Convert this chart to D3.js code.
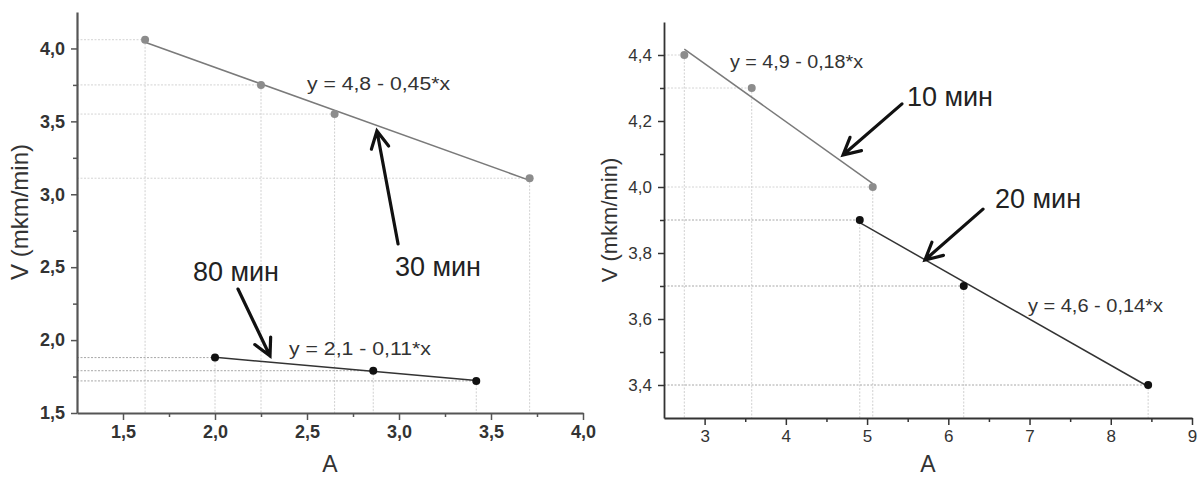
<!DOCTYPE html>
<html>
<head>
<meta charset="utf-8">
<script src="https://cdn.jsdelivr.net/npm/d3@7"></script>
<style>
  body { margin: 0; background: #fff; }
  svg { display: block; font-family: 'Liberation Sans', Arial, sans-serif; }
</style>
</head>
<body>
<svg id="chart"></svg>
<script>
// --- data ---
const a30 = [1.62, 2.25, 2.65, 3.71]
const v30 = [4.06, 3.75, 3.55, 3.11]
const a80 = [2.0, 2.86, 3.42]
const v80 = [1.88, 1.79, 1.72]
const a10 = [2.75, 3.58, 5.07]
const v10 = [4.40, 4.30, 4.00]
const a20 = [4.91, 6.19, 8.46]
const v20 = [3.90, 3.70, 3.40]

const seriesNames = ['30 мин', '80 мин', '10 мин', '20 мин']
const equations = ['y = 4,8 - 0,45*x', 'y = 2,1 - 0,11*x', 'y = 4,9 - 0,18*x', 'y = 4,6 - 0,14*x']

const leftXTicks = [1.5, 2.0, 2.5, 3.0, 3.5, 4.0]
const leftXMinor = [1.75, 2.25, 2.75, 3.25, 3.75]
const leftYTicks = [1.5, 2.0, 2.5, 3.0, 3.5, 4.0]
const leftYMinor = [1.75, 2.25, 2.75, 3.25, 3.75]
const rightXTicks = [3, 4, 5, 6, 7, 8, 9]
const rightXMinor = [3.5, 4.5, 5.5, 6.5, 7.5, 8.5]
const rightYTicks = [3.4, 3.6, 3.8, 4.0, 4.2, 4.4]
const rightYMinor = [3.5, 3.7, 3.9, 4.1, 4.3]

const svgWidth = 1199
const svgHeight = 480

const svg = d3.select('#chart').attr('width', svgWidth).attr('height', svgHeight)

const comma = (f) => (d) => d3.format(f)(d).replace('.', ',')

// least squares fit for the trend line
const fit = (xs, ys) => {
  const mx = d3.mean(xs), my = d3.mean(ys)
  const sxy = d3.sum(xs, (x, i) => (x - mx) * (ys[i] - my))
  const sxx = d3.sum(xs, (x) => (x - mx) ** 2)
  const b = sxy / sxx
  return { a: my - b * mx, b }
}

function panel(cfg) {
  const { x, y } = cfg
  const g = svg.append('g')
  const x0 = x.range()[0]
  const y0 = y.range()[0]

  // dotted guides
  cfg.series.forEach((s) => {
    s.xs.forEach((xv, i) => {
      g.append('line')
        .attr('x1', x0).attr('x2', x(xv))
        .attr('y1', y(s.ys[i])).attr('y2', y(s.ys[i]))
        .attr('stroke', s.guideH).attr('stroke-width', 1)
        .attr('stroke-dasharray', '2,1.5')
      g.append('line')
        .attr('x1', x(xv)).attr('x2', x(xv))
        .attr('y1', y(s.ys[i])).attr('y2', y0)
        .attr('stroke', '#d0d0d0').attr('stroke-width', 1)
        .attr('stroke-dasharray', '2,1.5')
    })
  })

  // trend lines + points
  cfg.series.forEach((s) => {
    const f = fit(s.xs, s.ys)
    const ends = d3.extent(s.xs)
    g.append('line')
      .attr('x1', x(ends[0])).attr('y1', y(f.a + f.b * ends[0]))
      .attr('x2', x(ends[1])).attr('y2', y(f.a + f.b * ends[1]))
      .attr('stroke', s.line).attr('stroke-width', 1.5)
    g.selectAll(null)
      .data(s.xs.map((xv, i) => [xv, s.ys[i]]))
      .join('circle')
      .attr('cx', (d) => x(d[0]))
      .attr('cy', (d) => y(d[1]))
      .attr('r', 4)
      .attr('fill', s.dot)
  })

  // axes
  const xAxis = g.append('g')
    .attr('transform', `translate(0,${y0})`)
    .call(d3.axisBottom(x).tickValues(cfg.xTicks).tickFormat(cfg.xFmt).tickSize(7).tickSizeOuter(0).tickPadding(5))
  g.append('g')
    .attr('transform', `translate(0,${y0})`)
    .call(d3.axisBottom(x).tickValues(cfg.xMinor).tickFormat('').tickSize(4))
    .call((a) => a.select('.domain').remove())
  const yAxis = g.append('g')
    .attr('transform', `translate(${x0},0)`)
    .call(d3.axisLeft(y).tickValues(cfg.yTicks).tickFormat(cfg.yFmt).tickSize(6).tickSizeOuter(0).tickPadding(6))
  g.append('g')
    .attr('transform', `translate(${x0},0)`)
    .call(d3.axisLeft(y).tickValues(cfg.yMinor).tickFormat('').tickSize(4))
    .call((a) => a.select('.domain').remove())

  g.selectAll('.domain').attr('stroke', cfg.axisColor).attr('stroke-width', cfg.axisWidth)
  g.selectAll('.tick line').attr('stroke', cfg.axisColor).attr('stroke-width', 1.5)
  ;[xAxis, yAxis].forEach((a) =>
    a.selectAll('.tick text')
      .attr('font-family', "'Liberation Sans', Arial, sans-serif")
      .attr('font-size', cfg.tickSize)
      .attr('font-weight', cfg.tickWeight)
      .attr('fill', '#333'))

  // axis titles
  const xm = d3.mean(x.range())
  g.append('text')
    .attr('x', xm).attr('y', cfg.xTitleY)
    .attr('text-anchor', 'middle')
    .attr('font-size', 23).attr('fill', '#333')
    .text('A')
  g.append('text')
    .attr('transform', `translate(${cfg.yTitleX},${cfg.yTitleCy}) rotate(-90)`)
    .attr('text-anchor', 'middle')
    .attr('font-size', cfg.yTitleSize).attr('fill', '#333')
    .text('V (mkm/min)')

  // equation labels
  cfg.eqs.forEach((e) => {
    g.append('text')
      .attr('x', x(e.at[0])).attr('y', y(e.at[1]))
      .attr('font-size', 18).attr('fill', '#333')
      .attr('textLength', e.len).attr('lengthAdjust', 'spacingAndGlyphs')
      .text(e.text)
  })

  // arrows + time labels
  cfg.notes.forEach((n) => {
    const tx = x(n.tip[0]), ty = y(n.tip[1])
    const sx = x(n.tail[0]), sy = y(n.tail[1])
    const ang = Math.atan2(sy - ty, sx - tx)
    const hl = 19, ha = 0.48
    const w1 = [tx + hl * Math.cos(ang + ha), ty + hl * Math.sin(ang + ha)]
    const w2 = [tx + hl * Math.cos(ang - ha), ty + hl * Math.sin(ang - ha)]
    g.append('path')
      .attr('d', `M${sx},${sy}L${tx},${ty}M${w1[0]},${w1[1]}L${tx},${ty}L${w2[0]},${w2[1]}`)
      .attr('fill', 'none').attr('stroke', '#111').attr('stroke-width', 3.2)
      .attr('stroke-linecap', 'round').attr('stroke-linejoin', 'miter')
    g.append('text')
      .attr('x', x(n.label[0])).attr('y', y(n.label[1]))
      .attr('font-size', 27).attr('fill', '#222')
      .text(n.text)
  })
}

// left chart
const xL = d3.scaleLinear().domain([1.25, 4.0]).range([77, 583])
const yL = d3.scaleLinear().domain([1.5, 4.25]).range([413, 12])
panel({
  x: xL, y: yL,
  xTicks: leftXTicks, xMinor: leftXMinor, yTicks: leftYTicks, yMinor: leftYMinor,
  xFmt: comma('.1f'), yFmt: comma('.1f'),
  axisColor: '#555', axisWidth: 2.2, tickWeight: 'bold', tickSize: 18,
  xTitleY: 472, yTitleX: 28, yTitleCy: 212, yTitleSize: 24,
  series: [
    { xs: a30, ys: v30, dot: '#8c8c8c', line: '#7a7a7a', guideH: '#d4d4d4' },
    { xs: a80, ys: v80, dot: '#111', line: '#333', guideH: '#a8a8a8' },
  ],
  eqs: [
    { text: equations[0], at: [2.5, 3.715], len: 143 },
    { text: equations[1], at: [2.402, 1.898], len: 142 },
  ],
  notes: [
    { text: seriesNames[0], tip: [2.88, 3.434], tail: [2.995, 2.659], label: [2.978, 2.44] },
    { text: seriesNames[1], tip: [2.299, 1.891], tail: [2.125, 2.35], label: [1.88, 2.405] },
  ],
})

// right chart
const xR = d3.scaleLinear().domain([2.5, 9]).range([664, 1192])
const yR = d3.scaleLinear().domain([3.3, 4.5]).range([418, 22])
panel({
  x: xR, y: yR,
  xTicks: rightXTicks, xMinor: rightXMinor, yTicks: rightYTicks, yMinor: rightYMinor,
  xFmt: d3.format('d'), yFmt: comma('.1f'),
  axisColor: '#333', axisWidth: 1.8, tickWeight: 'normal', tickSize: 17,
  xTitleY: 472, yTitleX: 617, yTitleCy: 220, yTitleSize: 22,
  series: [
    { xs: a10, ys: v10, dot: '#8c8c8c', line: '#7a7a7a', guideH: '#d4d4d4' },
    { xs: a20, ys: v20, dot: '#111', line: '#333', guideH: '#a8a8a8' },
  ],
  eqs: [
    { text: equations[2], at: [3.313, 4.361], len: 133 },
    { text: equations[3], at: [6.981, 3.621], len: 135 },
  ],
  notes: [
    { text: seriesNames[2], tip: [4.704, 4.097], tail: [5.43, 4.252], label: [5.49, 4.245] },
    { text: seriesNames[3], tip: [5.713, 3.779], tail: [6.427, 3.933], label: [6.575, 3.936] },
  ],
})
</script>
</body>
</html>
